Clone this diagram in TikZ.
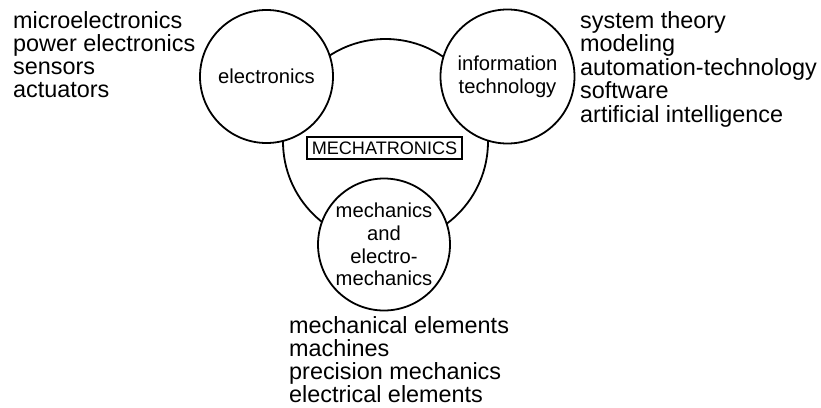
\documentclass[tikz,border=0pt]{standalone}
\usepackage{fontspec}
\setmainfont{Liberation Sans}
\begin{document}
\begin{tikzpicture}[x=1pt,y=-1pt,
  ring/.style={circle, draw=black, line width=1.8pt, inner sep=0pt},
  area/.style={ring, fill=white, align=center, font=\fontsize{20.2}{22.8}\selectfont},
  listtext/.style={anchor=base west, inner sep=0pt, font=\fontsize{23.4}{23.4}\selectfont},
  titlebox/.style={draw=black, line width=1.1pt, rectangle, minimum width=155pt, minimum height=22pt, inner sep=0pt, font=\fontsize{18.1}{18.1}\selectfont}
]
\useasboundingbox (0,0) rectangle (821,407);
% big mechatronics circle
\node[ring, minimum size=205pt] (whole) at (385.5,141.5) {};
% sub-discipline circles
\node[area, minimum size=133pt] (elec) at (266.5,76.5) {electronics};
\node[area, minimum size=134pt] (info) at (507.5,76.5) {information\\technology};
\node[area, minimum size=132pt] (mechan) at (384,244.5) {mechanics\\and\\electro-\\mechanics};
% title
\node[titlebox] (title) at (384.5,148) {MECHATRONICS};
% left list
\node[listtext] (l1) at (13,28) {microelectronics};
\node[listtext] (l2) at (13,51.3) {power electronics};
\node[listtext] (l3) at (13,74.6) {sensors};
\node[listtext] (l4) at (13,97.9) {actuators};
% right list
\node[listtext] (r1) at (580,28) {system theory};
\node[listtext] (r2) at (580,51.5) {modeling};
\node[listtext] (r3) at (580,75) {automation-technology};
\node[listtext] (r4) at (580,98.5) {software};
\node[listtext] (r5) at (580,122) {artificial intelligence};
% bottom list
\node[listtext] (b1) at (289,333) {mechanical elements};
\node[listtext] (b2) at (289,356) {machines};
\node[listtext] (b3) at (289,379) {precision mechanics};
\node[listtext] (b4) at (289,402) {electrical elements};
\end{tikzpicture}
\end{document}
